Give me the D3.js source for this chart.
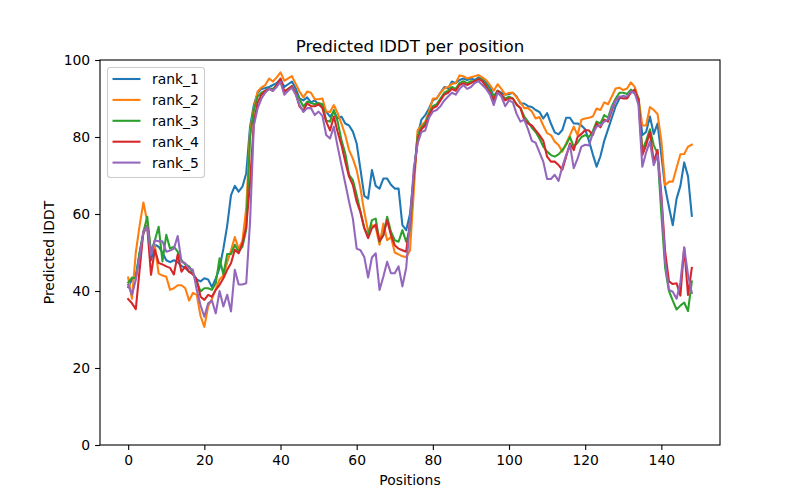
<!DOCTYPE html>
<html>
<head>
<meta charset="utf-8">
<script src="https://cdn.jsdelivr.net/npm/d3@7"></script>
<style>
  body { margin: 0; background: #fff; }
  svg text { font-family: "DejaVu Sans", sans-serif; }
</style>
</head>
<body>
<svg id="chart" width="800" height="500"></svg>
<script>
const seriesNames = ["rank_1", "rank_2", "rank_3", "rank_4", "rank_5"];
const colors = ["#1f77b4", "#ff7f0e", "#2ca02c", "#d62728", "#9467bd"];
const xTicks = [0, 20, 40, 60, 80, 100, 120, 140];
const yTicks = [0, 20, 40, 60, 80, 100];

const rank_1 = [41,43,44,50,55,57,48,52,51.5,50,48,47.5,48,47.5,46.5,46,45,44.5,43,42.5,
43.3,43,41,43.3,46,51,57,64.9,67.3,65.8,67.1,70.6,82.7,88.3,91.5,92.5,92.7,93,93.5,94,
95,93,93.7,94.4,92.6,90,89.5,90.3,89,89.5,88.5,88,86.6,85.3,86.6,84.8,85.3,83.5,83,81.4,
78.3,71.5,64.7,64,71.4,67.3,66.6,69.2,69.2,67.6,66.6,66.6,57.1,55.8,60,70,80.5,84.5,85.7,87.4,
89.6,90,91.5,93,92.6,94.4,94,94.8,95.2,94.8,95.2,94.8,95.5,95,94,93,90.5,92,91.5,91,
91.2,91.5,90.5,88.7,88.7,88,87.8,87,86.5,84.8,86.2,83.5,81.2,80.7,81.8,85,85,83.5,83.5,83,
82,79,75.5,72.3,75,79,82,85,88,90,90.7,90.2,92,91.3,90,80.5,81.3,85.3,80.8,83.5,
75.3,66.8,61.8,57.1,64,67.3,73.4,69.8,59.5];

const rank_2 = [43.5,38,50,57,63,58,50,52,44.5,44,43.7,40.3,40.7,41.5,41.5,40.7,37.5,39.5,39,33.5,
30.7,36,38,40.5,43,44,47.5,50.5,54,51,53,61.5,81.4,87.4,91.8,92.9,93.5,95.2,94.4,95.5,
96.8,94.6,95.2,95.8,93.8,91.8,90.3,91.8,91.5,89.8,89.8,90,86.6,86.5,88.3,86.2,83.5,80.5,76.6,74.4,
71.4,66.6,60.5,55.5,57.1,56.5,52,57.5,53.2,54,50,49.5,49,48.8,50.5,66,81.8,83,84,86.6,
90,90,91.5,92.6,93,93.8,94,96,95.8,95.2,95.5,95.8,96.1,95.5,94.8,93.5,92,93.7,92.5,91,
91.5,91.5,90.3,89,87.5,87.5,86.6,84.8,85.2,83,81,80.5,78.8,77.9,76.2,78.3,80.5,82.7,80.5,84.5,
84.8,85,85.3,87.4,87,89,88.5,90.5,92.6,92.8,92.2,92.6,94.2,93,90,83,83,87.8,87,86,
79,67.5,68.4,68.4,72,75.5,75.6,77.5,78];

const rank_3 = [42.2,43.5,43.3,49.8,55.4,59.3,50,53.2,56.7,47.7,54.6,51,51.5,50.2,48,46.9,46.4,44.6,42.4,39.9,
40.7,40.7,40.3,42,48.5,44.3,49.6,49.6,52,50.2,51.5,56,80,87,90.5,91.5,92,92.6,92.5,93.5,
94.4,91.8,92.5,93.2,91.5,89.8,87.9,89.2,88.8,88.5,88.8,88.5,84.2,84,87,84,79.2,75.7,70.2,68.8,
64.9,60.6,56.3,54.5,58.4,58.8,52.8,54.5,59.3,55.4,53.2,52.8,55.8,52.8,56,70,80,82.5,83.5,86,
88,88.5,90,91.5,92,93,92.5,94,94.5,94,94.5,94.5,95.2,94.8,93.5,92,90.5,92,91,90,
90.5,90,88.3,87.6,85.3,84,82.4,81.3,79.6,77.5,76.2,75.3,74.9,75.5,76.6,78,80,77.5,78.5,80,
80.5,80,81.5,84,83.5,85.7,85,88,90,91.5,91.5,91.2,92.3,91.5,90,76.6,79,82,77.9,75.7,
60,46,40,37.5,35.2,36.2,37,34.8,42.5];

const rank_4 = [37.9,36.8,35.3,45.5,55.4,56.7,44.2,50.7,47.3,46.9,46.4,46,44.3,49.5,45,46.4,45,44.3,43,38.5,
37.7,39,38.5,40.3,41.6,43.3,45.5,47.2,50.7,49.8,52.4,56.7,68,84,89,91,92,92.5,92,93.5,
95.2,91.8,92.4,93.2,91.3,87.9,86.9,88.7,88,88,88.5,87.5,84,81.7,85.3,81.3,77.9,73.6,69.7,67.5,
63.2,60.4,56.3,53.7,56.3,57.3,53,54.5,58.4,54.5,51.9,51,50.6,50.2,58,70,79,82,83,85.5,
87.5,88,89.5,91,91.5,92.5,92,93.5,94,93.5,94,94.5,95,94.5,93,91.5,89.5,92,91,89.5,
90,90,88.5,87.5,84.5,83.5,83,81.7,80.5,79,74.9,73.6,73.6,72.7,71.5,74.9,78.3,76.6,80,80.8,
81.8,81.7,80.5,83.5,82.5,84.5,84,87,89.5,90.3,90,90,91.5,92.3,89.6,75.3,77.9,81.3,73.6,76.6,
65,50.2,42.5,41.8,42,38.8,51.3,39,46];

const rank_5 = [41.6,39,42.9,49,55.4,56.7,49.4,53.2,52.9,52.9,50.2,50.5,51,54.3,47.6,47.2,45.9,45.5,40.3,36.3,
33.3,36.8,37.5,34.2,40,36,39,34.7,45.5,41.7,41.7,42,58,83,87.5,90,91.5,92.5,92,93,
94.3,91,92,92.8,91,88.3,86.5,87.5,87.5,85.7,86.6,85.5,80.5,79.6,82.7,77.5,72.7,68,63.2,58.8,
51,50.6,48.8,43.5,48.7,49.8,40.3,43.7,47.6,44.6,44.6,46.4,41.2,46,58,71.9,78.3,81.3,81.7,85,
86.6,87,88,89.5,90.5,91.5,91,92.5,93.5,92.5,93,94,94.5,93.5,92.5,91,88.3,91.5,90.5,88,
89.5,89,86,84,84.5,82,79,78.5,76,73.6,69.1,69.1,70.2,68.6,72.3,75.3,77.9,71.9,74.4,77.5,
78,77.8,81,82.7,83,84,84.5,87.5,89.5,90.5,90.5,90.6,91.8,91.5,88.3,72.3,76,78.8,72.7,75.3,
64,47.6,40.3,39.8,38,42.3,51.3,44.2,39.5];

const allSeries = [rank_1, rank_2, rank_3, rank_4, rank_5];

const svg = d3.select("#chart");
const W = 800, H = 500;
const m = { left: 100, right: 80, top: 60, bottom: 55 };
const pw = W - m.left - m.right, ph = H - m.top - m.bottom;
const n = rank_1.length;
const pad = (n - 1) * 0.05;
const x = d3.scaleLinear().domain([-pad, (n - 1) + pad]).range([m.left, m.left + pw]);
const y = d3.scaleLinear().domain([0, 100]).range([m.top + ph, m.top]);

const g = svg.append("g");

// lines
const line = d3.line().x((d, i) => x(i)).y(d => y(d));
const clipId = "clip";
svg.append("clipPath").attr("id", clipId).append("rect")
  .attr("x", m.left).attr("y", m.top).attr("width", pw).attr("height", ph);
allSeries.forEach((s, k) => {
  g.append("path").datum(s)
    .attr("clip-path", "url(#clip)")
    .attr("fill", "none").attr("stroke", colors[k]).attr("stroke-width", 2.08)
    .attr("stroke-linejoin", "round").attr("stroke-linecap", "square")
    .attr("d", line);
});

// axes
const xAxis = d3.axisBottom(x).tickValues(xTicks).tickSize(4.9).tickPadding(4.9).tickFormat(d3.format("d"));
const yAxis = d3.axisLeft(y).tickValues(yTicks).tickSize(4.9).tickPadding(4.9).tickFormat(d3.format("d"));
const gx = svg.append("g").attr("transform", `translate(0,${m.top + ph})`).call(xAxis);
const gy = svg.append("g").attr("transform", `translate(${m.left},0)`).call(yAxis);
[gx, gy].forEach(a => {
  a.select(".domain").remove();
  a.selectAll(".tick line").attr("stroke", "#000").attr("stroke-width", 1.1);
  a.selectAll(".tick text").attr("font-size", "13.9px").attr("fill", "#000")
    .attr("font-family", "DejaVu Sans, sans-serif");
});

// frame
svg.append("rect").attr("x", m.left).attr("y", m.top).attr("width", pw).attr("height", ph)
  .attr("fill", "none").attr("stroke", "#000").attr("stroke-width", 1.1);

// title and labels
svg.append("text").attr("x", m.left + pw / 2).attr("y", 52).attr("text-anchor", "middle")
  .attr("font-size", "16.7px").attr("fill", "#000").text("Predicted lDDT per position");
svg.append("text").attr("x", m.left + pw / 2).attr("y", 485).attr("text-anchor", "middle")
  .attr("font-size", "13.9px").attr("fill", "#000").text("Positions");
svg.append("text").attr("transform", `translate(54,${m.top + ph / 2}) rotate(-90)`)
  .attr("text-anchor", "middle").attr("font-size", "13.9px").attr("fill", "#000").text("Predicted lDDT");

// legend
const lg = svg.append("g");
lg.append("rect").attr("x", 107.5).attr("y", 67.5).attr("width", 97).attr("height", 110)
  .attr("rx", 3).attr("ry", 3).attr("fill", "#fff").attr("fill-opacity", 0.8)
  .attr("stroke", "#cccccc").attr("stroke-width", 1.1);
seriesNames.forEach((name, k) => {
  const yy = 79 + k * 20.9;
  lg.append("line").attr("x1", 112.5).attr("x2", 140.5).attr("y1", yy).attr("y2", yy)
    .attr("stroke", colors[k]).attr("stroke-width", 2.08);
  lg.append("text").attr("x", 152).attr("y", yy).attr("dy", "0.36em")
    .attr("font-size", "13.9px").attr("fill", "#000").text(name);
});
</script>
</body>
</html>
